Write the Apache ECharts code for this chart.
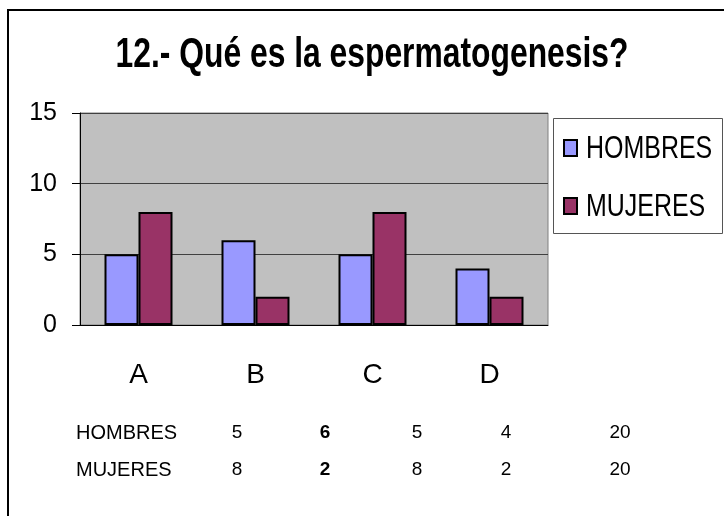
<!DOCTYPE html>
<html>
<head>
<meta charset="utf-8">
<script src="https://cdn.jsdelivr.net/npm/echarts@6/dist/echarts.min.js"></script>
<style>
  html, body { margin: 0; padding: 0; background: #fff; }
  #chart { width: 724px; height: 516px; }
</style>
</head>
<body>
<div id="chart"></div>
<script>
const titleText = '12.- Qué es la espermatogenesis?';
const categories = ['A', 'B', 'C', 'D'];
const seriesNames = ['HOMBRES', 'MUJERES'];
const hombres = [5, 6, 5, 4];
const mujeres = [8, 2, 8, 2];
const yTicks = [0, 5, 10, 15];

const sans = '"Liberation Sans", Arial, sans-serif';
const colors = ['#9999ff', '#993366'];

// data table under the chart
const tableCols = [237, 325, 417, 506, 620];
const tableRows = [
  { name: seriesNames[0], vals: hombres, y: 433 },
  { name: seriesNames[1], vals: mujeres, y: 470 }
];
const tableTexts = [];
tableRows.forEach(row => {
  tableTexts.push({
    type: 'text', x: 76, y: row.y,
    style: { text: row.name, textVerticalAlign: 'middle', font: '20px ' + sans, fill: '#000' }
  });
  const cells = row.vals.concat([row.vals.reduce((a, b) => a + b, 0)]);
  cells.forEach((v, i) => {
    tableTexts.push({
      type: 'text', x: tableCols[i], y: row.y,
      style: {
        text: String(v), textAlign: 'center', textVerticalAlign: 'middle',
        font: (i === 1 ? 'bold ' : '') + '19px ' + sans, fill: '#000'
      }
    });
  });
});

// legend drawn by hand so the text can be condensed like the original
const legendItems = [];
seriesNames.forEach((name, i) => {
  const cy = 148 + i * 58;
  legendItems.push({
    type: 'rect', shape: { x: 564, y: cy - 8, width: 13, height: 16 },
    style: { fill: colors[i], stroke: '#000', lineWidth: 2 }
  });
  legendItems.push({
    type: 'text', x: 586, y: cy + 1, scaleX: 0.78,
    style: { text: name, textVerticalAlign: 'middle', font: '32px ' + sans, fill: '#000' }
  });
});

const chart = echarts.init(document.getElementById('chart'));
chart.setOption({
  animation: false,
  backgroundColor: '#fff',
  grid: {
    left: 80, right: 176, top: 113, bottom: 191,
    show: true, backgroundColor: '#c0c0c0', borderColor: '#808080', borderWidth: 1
  },
  xAxis: {
    type: 'category', data: categories,
    axisLine: { lineStyle: { color: '#000', width: 1 } },
    axisTick: { length: 11, lineStyle: { color: '#000' } },
    axisLabel: { fontFamily: sans, fontSize: 28, color: '#000', margin: 36 }
  },
  yAxis: {
    type: 'value', min: yTicks[0], max: yTicks[yTicks.length - 1], interval: 5,
    axisLine: { show: true, lineStyle: { color: '#000', width: 1 } },
    axisTick: { show: true, length: 8, lineStyle: { color: '#000' } },
    axisLabel: { fontFamily: sans, fontSize: 25, color: '#000', margin: 23 },
    splitLine: { lineStyle: { color: '#404040', width: 1 } }
  },
  series: [
    {
      name: seriesNames[0], type: 'bar', data: hombres, barWidth: 34, barGap: '0%',
      itemStyle: { color: colors[0], borderColor: '#000', borderWidth: 2 }
    },
    {
      name: seriesNames[1], type: 'bar', data: mujeres, barWidth: 34, barGap: '0%',
      itemStyle: { color: colors[1], borderColor: '#000', borderWidth: 2 }
    }
  ],
  graphic: [
    {
      type: 'rect', shape: { x: 8, y: 10, width: 800, height: 600 },
      style: { fill: 'none', stroke: '#000', lineWidth: 2 }, z: -10
    },
    {
      type: 'rect', shape: { x: 553.5, y: 118.5, width: 169, height: 115 },
      style: { fill: '#fff', stroke: '#555', lineWidth: 1 }, z: -1
    },
    {
      type: 'text', x: 372, y: 55, scaleX: 0.74,
      style: {
        text: titleText, textAlign: 'center', textVerticalAlign: 'middle',
        font: 'bold 43px ' + sans, fill: '#000'
      }
    }
  ].concat(legendItems, tableTexts)
});
</script>
</body>
</html>
